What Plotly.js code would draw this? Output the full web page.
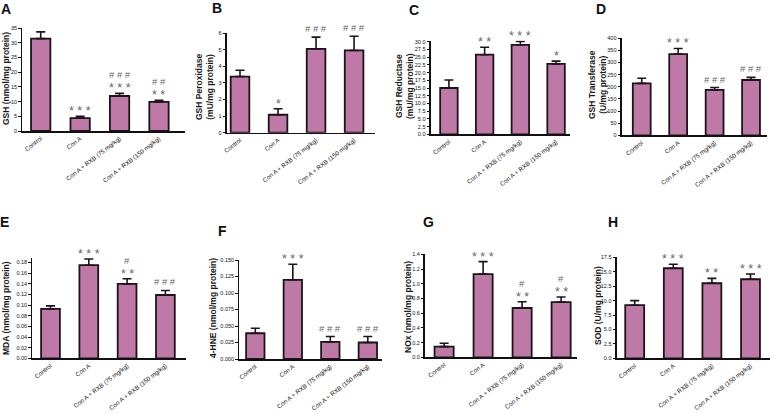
<!DOCTYPE html>
<html>
<head>
<meta charset="utf-8">
<script src="https://cdn.plot.ly/plotly-3.0.1.min.js"></script>
<style>html,body{margin:0;padding:0;background:#fff;}#chart{width:772px;height:414px;}</style>
</head>
<body>
<div id="chart"></div>
<script>
const groups = ["Control", "Con A", "Con A + RXB (75 mg/kg)", "Con A + RXB (150 mg/kg)"];

const gshMean = [31.4, 4.4, 11.9, 9.9];
const gshErr  = [2.3, 0.6, 0.9, 0.5];
const gshStars  = ["", "* * *", "* * *", "* *"];
const gshHashes = ["", "", "# # #", "# #"];

const gpxMean = [3.38, 1.08, 5.05, 4.95];
const gpxErr  = [0.38, 0.36, 0.7, 0.85];
const gpxStars  = ["", "*", "", ""];
const gpxHashes = ["", "", "# # #", "# # #"];

const grMean = [15.0, 25.8, 29.0, 22.8];
const grErr  = [2.6, 2.4, 1.1, 0.9];
const grStars  = ["", "* *", "* * *", "*"];
const grHashes = ["", "", "", ""];

const gstMean = [214, 335, 187, 228];
const gstErr  = [21, 23, 10, 11];
const gstStars  = ["", "* * *", "", ""];
const gstHashes = ["", "", "# # #", "# # #"];

const mdaMean = [0.093, 0.175, 0.140, 0.119];
const mdaErr  = [0.0055, 0.012, 0.0095, 0.0085];
const mdaStars  = ["", "* * *", "* *", ""];
const mdaHashes = ["", "", "#", "# # #"];

const hneMean = [0.039, 0.120, 0.026, 0.025];
const hneErr  = [0.0075, 0.0235, 0.008, 0.009];
const hneStars  = ["", "* * *", "", ""];
const hneHashes = ["", "", "# # #", "# # #"];

const noxMean = [0.145, 1.13, 0.67, 0.75];
const noxErr  = [0.045, 0.17, 0.085, 0.07];
const noxStars  = ["", "* * *", "* *", "* *"];
const noxHashes = ["", "", "#", "#"];

const sodMean = [9.2, 15.6, 13.0, 13.7];
const sodErr  = [0.8, 0.7, 0.85, 0.9];
const sodStars  = ["", "* * *", "* *", "* * *"];
const sodHashes = ["", "", "", ""];

const yTitles = [
  "GSH (nmol/mg protein)",
  "GSH Peroxidase<br>(mU/mg protein)",
  "GSH Reductase<br>(mU/mg protein)",
  "GSH Transferase<br>(U/mg protein)",
  "MDA (nmol/mg protein)",
  "4-HNE (nmol/mg protein)",
  "NOx (nmol/mg protein)",
  "SOD (U/mg protein)"
];
const letters = ["A", "B", "C", "D", "E", "F", "G", "H"];

// layout geometry per panel (pixel-derived)
const W = 772, H = 414;
const panels = [
  {mean: gshMean, err: gshErr, stars: gshStars, hashes: gshHashes, px: [22.3, 185], py: [28, 131], xr: [-0.467, 3.66], yr: [0, 35], dt: 5, fmt: "", letter: [6, 9], tt: [6, 79]},
  {mean: gpxMean, err: gpxErr, stars: gpxStars, hashes: gpxHashes, px: [226.7, 375], py: [33, 132.7], xr: [-0.35, 3.55], yr: [0, 6], dt: 1, fmt: "", letter: [217, 8], tt: [204, 87]},
  {mean: grMean, err: grErr, stars: grStars, hashes: grHashes, px: [430.7, 570], py: [40.8, 134.3], xr: [-0.51, 3.39], yr: [0, 30.3], dt: 2.5, fmt: ".1f", letter: [414, 10], tt: [404, 86]},
  {mean: gstMean, err: gstErr, stars: gstStars, hashes: gstHashes, px: [621.7, 766.7], py: [38.3, 135.3], xr: [-0.55, 3.43], yr: [0, 400], dt: 50, fmt: "", letter: [601, 9], tt: [597, 85]},
  {mean: mdaMean, err: mdaErr, stars: mdaStars, hashes: mdaHashes, px: [32.3, 185.7], py: [258.3, 358.3], xr: [-0.475, 3.53], yr: [0, 0.188], dt: 0.02, fmt: ".2f", letter: [4, 222], tt: [6, 308]},
  {mean: hneMean, err: hneErr, stars: hneStars, hashes: hneHashes, px: [239.3, 381.7], py: [260, 359], xr: [-0.427, 3.37], yr: [0, 0.150], dt: 0.025, fmt: ".3f", letter: [222, 231], tt: [213, 308]},
  {mean: noxMean, err: noxErr, stars: noxStars, hashes: noxHashes, px: [425, 577.3], py: [254.3, 357.3], xr: [-0.49, 3.415], yr: [0, 1.4], dt: 0.2, fmt: ".1f", letter: [428, 222], tt: [408, 307]},
  {mean: sodMean, err: sodErr, stars: sodStars, hashes: sodHashes, px: [616.7, 770], py: [257.3, 358.3], xr: [-0.466, 3.505], yr: [0, 17.5], dt: 2.5, fmt: ".1f", letter: [613, 222], tt: [598, 306]}
];

const barColor = "#BF79A6";
const edge = "#1c1418";
const font = "Liberation Sans, Arial, sans-serif";
const sigColor = "#666666";
const traces = [];
const layout = {
  width: W, height: H,
  margin: {l: 0, r: 0, t: 0, b: 0},
  paper_bgcolor: "#ffffff", plot_bgcolor: "#ffffff",
  showlegend: false,
  font: {family: font, color: "#1a1a1a"},
  annotations: []
};

panels.forEach((p, i) => {
  const n = i + 1;
  const xa = "x" + (n === 1 ? "" : n), ya = "y" + (n === 1 ? "" : n);
  const xk = "xaxis" + (n === 1 ? "" : n), yk = "yaxis" + (n === 1 ? "" : n);
  const xs = groups.map((g, k) => k);
  traces.push({
    type: "bar", x: xs, y: p.mean, xaxis: xa, yaxis: ya, width: 0.49,
    marker: {color: barColor, line: {color: edge, width: 1.8}},
    error_y: {type: "data", symmetric: false, array: p.err, arrayminus: p.err.map(() => 0), color: edge, thickness: 1.6, width: 4.5},
    hoverinfo: "y"
  });
  layout[xk] = {
    domain: [p.px[0] / W, p.px[1] / W], range: p.xr, anchor: ya,
    tickmode: "array", tickvals: xs, ticktext: groups, tickangle: -38,
    tickfont: {size: 6.2, family: font, color: "#111"},
    ticks: "", showgrid: false, zeroline: false,
    showline: true, linecolor: "#111", linewidth: 1.6, fixedrange: true
  };
  layout[yk] = {
    domain: [1 - p.py[1] / H, 1 - p.py[0] / H], range: p.yr, anchor: xa,
    tickmode: "linear", tick0: 0, dtick: p.dt, tickformat: p.fmt,
    tickfont: {size: 5.5, family: font, color: "#111"},
    ticks: "outside", ticklen: 2.5, tickwidth: 1, tickcolor: "#111",
    showgrid: false, zeroline: false,
    showline: true, linecolor: "#111", linewidth: 1.6, fixedrange: true
  };
  // panel letter
  layout.annotations.push({
    xref: "paper", yref: "paper", x: p.letter[0] / W, y: 1 - p.letter[1] / H,
    xanchor: "center", yanchor: "middle", showarrow: false,
    text: "<b>" + letters[i] + "</b>", font: {size: 14, family: font, color: "#111"}
  });
  // y axis title
  layout.annotations.push({
    xref: "paper", yref: "paper", x: p.tt[0] / W, y: 1 - p.tt[1] / H,
    xanchor: "center", yanchor: "middle", showarrow: false, textangle: -90,
    text: "<b>" + yTitles[i] + "</b>", font: {size: 8.5, family: font, color: "#1a1a1a"}
  });
  // significance marks: stars just above the cap, hashes above stars
  p.mean.forEach((m, k) => {
    const top = m + p.err[k];
    let shift = 1;
    if (p.stars[k]) {
      layout.annotations.push({
        xref: xa, yref: ya, x: k, y: top,
        xanchor: "center", yanchor: "bottom", showarrow: false, yshift: -4,
        text: p.stars[k], font: {size: 12.5, family: font, color: sigColor}
      });
      shift = 11;
    }
    if (p.hashes[k]) {
      layout.annotations.push({
        xref: xa, yref: ya, x: k, y: top,
        xanchor: "center", yanchor: "bottom", showarrow: false, yshift: shift,
        text: p.hashes[k], font: {size: 9.5, family: font, color: sigColor}
      });
    }
  });
});

Plotly.newPlot("chart", traces, layout, {displayModeBar: false, staticPlot: true});
</script>
</body>
</html>
